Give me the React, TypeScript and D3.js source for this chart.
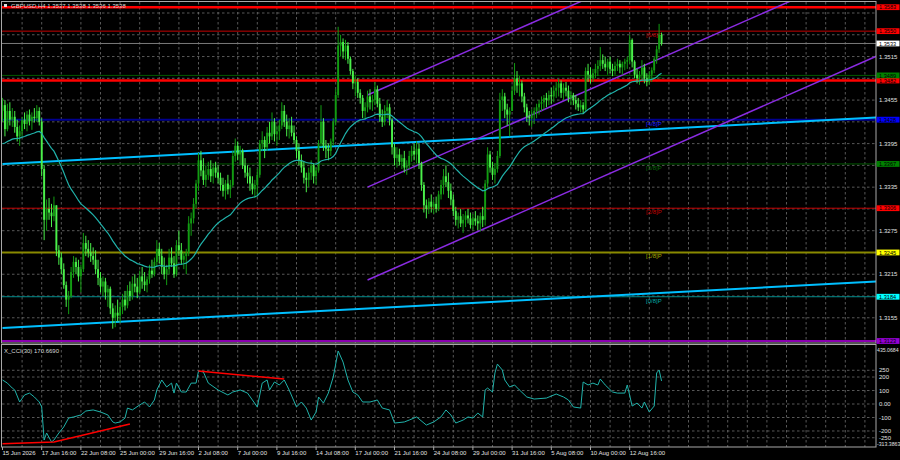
import { useEffect, useRef } from 'react';
import * as d3 from 'd3';

// GBPUSD H4, one value per bar (bar 0 = 15 Jun 2026 00:00)
const closes = [
    1.3448, 1.3415, 1.3440, 1.3428, 1.3432, 1.3418, 1.3405, 1.3412, 1.3428, 1.3422,
    1.3435, 1.3426, 1.3432, 1.3430, 1.3440, 1.3425, 1.3360, 1.3290, 1.3305, 1.3300,
    1.3295, 1.3310, 1.3248, 1.3238, 1.3222, 1.3200, 1.3180, 1.3185, 1.3218, 1.3232,
    1.3225, 1.3212, 1.3222, 1.3258, 1.3250, 1.3245, 1.3240, 1.3235, 1.3222, 1.3210,
    1.3198, 1.3205, 1.3190, 1.3195, 1.3168, 1.3155, 1.3162, 1.3158, 1.3170, 1.3180,
    1.3172, 1.3192, 1.3185, 1.3202, 1.3198, 1.3190, 1.3212, 1.3205, 1.3200, 1.3208,
    1.3220, 1.3215, 1.3232, 1.3250, 1.3240, 1.3225, 1.3215, 1.3222, 1.3238, 1.3230,
    1.3215, 1.3255, 1.3248, 1.3235, 1.3240, 1.3245, 1.3285, 1.3292, 1.3312, 1.3340,
    1.3372, 1.3358, 1.3345, 1.3352, 1.3360, 1.3350, 1.3362, 1.3355, 1.3348, 1.3338,
    1.3330, 1.3340, 1.3332, 1.3338, 1.3378, 1.3392, 1.3380, 1.3385, 1.3365, 1.3355,
    1.3350, 1.3340, 1.3332, 1.3338, 1.3352, 1.3395, 1.3400, 1.3390, 1.3410, 1.3405,
    1.3425, 1.3408, 1.3412, 1.3420, 1.3440, 1.3425, 1.3415, 1.3420, 1.3410, 1.3400,
    1.3385, 1.3372, 1.3362, 1.3348, 1.3345, 1.3355, 1.3365, 1.3350, 1.3358, 1.3395,
    1.3425, 1.3392, 1.3388, 1.3385, 1.3398, 1.3425, 1.3462, 1.3530, 1.3535, 1.3522,
    1.3530, 1.3512, 1.3495, 1.3478, 1.3480, 1.3465, 1.3458, 1.3440, 1.3445, 1.3460,
    1.3452, 1.3455, 1.3470, 1.3450, 1.3432, 1.3425, 1.3440, 1.3445, 1.3428, 1.3390,
    1.3375, 1.3380, 1.3370, 1.3375, 1.3362, 1.3365, 1.3378, 1.3385, 1.3380, 1.3388,
    1.3368, 1.3338, 1.3310, 1.3305, 1.3315, 1.3308, 1.3312, 1.3305, 1.3325, 1.3338,
    1.3350, 1.3342, 1.3330, 1.3318, 1.3302, 1.3290, 1.3295, 1.3285, 1.3290, 1.3296,
    1.3292, 1.3283, 1.3292, 1.3288, 1.3285, 1.3295, 1.3290, 1.3340, 1.3380, 1.3362,
    1.3352, 1.3360, 1.3378, 1.3455, 1.3460, 1.3442, 1.3435, 1.3440, 1.3468, 1.3485,
    1.3475, 1.3478, 1.3460, 1.3445, 1.3432, 1.3430, 1.3435, 1.3440, 1.3445, 1.3450,
    1.3452, 1.3458, 1.3455, 1.3462, 1.3460, 1.3468, 1.3472, 1.3478, 1.3465, 1.3472,
    1.3468, 1.3458, 1.3462, 1.3455, 1.3450, 1.3445, 1.3448, 1.3442, 1.3495, 1.3490,
    1.3485, 1.3492, 1.3498, 1.3502, 1.3510, 1.3505, 1.3500, 1.3508, 1.3498, 1.3495,
    1.3502, 1.3505, 1.3500, 1.3505, 1.3508, 1.3510, 1.3538, 1.3508, 1.3490, 1.3485,
    1.3490, 1.3500, 1.3485, 1.3480, 1.3490, 1.3496, 1.3512, 1.3525, 1.3545, 1.3533,
];

const highs = [
    1.3458, 1.3455, 1.3450, 1.3452, 1.3444, 1.3440, 1.3428, 1.3420, 1.3432, 1.3438,
    1.3440, 1.3442, 1.3438, 1.3444, 1.3448, 1.3445, 1.3430, 1.3365, 1.3318, 1.3320,
    1.3312, 1.3322, 1.3300, 1.3255, 1.3245, 1.3230, 1.3205, 1.3192, 1.3225, 1.3240,
    1.3238, 1.3235, 1.3228, 1.3272, 1.3268, 1.3262, 1.3258, 1.3252, 1.3248, 1.3235,
    1.3218, 1.3212, 1.3210, 1.3200, 1.3198, 1.3175, 1.3172, 1.3180, 1.3175, 1.3188,
    1.3192, 1.3200, 1.3205, 1.3212, 1.3215, 1.3210, 1.3220, 1.3225, 1.3218, 1.3212,
    1.3228, 1.3235, 1.3238, 1.3262, 1.3258, 1.3250, 1.3238, 1.3228, 1.3250, 1.3252,
    1.3240, 1.3262, 1.3275, 1.3258, 1.3245, 1.3250, 1.3295, 1.3300, 1.3320, 1.3345,
    1.3382, 1.3385, 1.3375, 1.3365, 1.3370, 1.3372, 1.3368, 1.3370, 1.3365, 1.3355,
    1.3348, 1.3345, 1.3352, 1.3345, 1.3385, 1.3402, 1.3398, 1.3392, 1.3388, 1.3375,
    1.3365, 1.3362, 1.3350, 1.3345, 1.3360, 1.3400, 1.3412, 1.3405, 1.3418, 1.3425,
    1.3438, 1.3430, 1.3420, 1.3428, 1.3452, 1.3448, 1.3435, 1.3430, 1.3432, 1.3420,
    1.3405, 1.3395, 1.3380, 1.3370, 1.3355, 1.3362, 1.3372, 1.3368, 1.3362, 1.3400,
    1.3448, 1.3430, 1.3400, 1.3395, 1.3402, 1.3430, 1.3470, 1.3556, 1.3545, 1.3540,
    1.3538, 1.3535, 1.3515, 1.3498, 1.3488, 1.3485, 1.3470, 1.3462, 1.3452, 1.3468,
    1.3470, 1.3462, 1.3480, 1.3475, 1.3458, 1.3442, 1.3448, 1.3455, 1.3450, 1.3430,
    1.3395, 1.3390, 1.3388, 1.3380, 1.3385, 1.3372, 1.3385, 1.3392, 1.3395, 1.3398,
    1.3395, 1.3370, 1.3342, 1.3318, 1.3320, 1.3325, 1.3318, 1.3322, 1.3330, 1.3345,
    1.3360, 1.3365, 1.3355, 1.3340, 1.3325, 1.3308, 1.3300, 1.3305, 1.3298, 1.3302,
    1.3305, 1.3300, 1.3298, 1.3302, 1.3296, 1.3300, 1.3308, 1.3345, 1.3390, 1.3385,
    1.3370, 1.3368, 1.3385, 1.3465, 1.3470, 1.3465, 1.3450, 1.3445, 1.3475, 1.3506,
    1.3495, 1.3488, 1.3482, 1.3465, 1.3450, 1.3440, 1.3442, 1.3445, 1.3450, 1.3455,
    1.3460, 1.3462, 1.3465, 1.3468, 1.3472, 1.3475, 1.3480, 1.3484, 1.3482, 1.3478,
    1.3480, 1.3475, 1.3468, 1.3465, 1.3462, 1.3458, 1.3455, 1.3452, 1.3500, 1.3505,
    1.3500, 1.3498, 1.3505, 1.3510, 1.3528, 1.3518, 1.3515, 1.3512, 1.3515, 1.3505,
    1.3508, 1.3512, 1.3510, 1.3508, 1.3512, 1.3515, 1.3545, 1.3540, 1.3510, 1.3498,
    1.3495, 1.3510, 1.3505, 1.3492, 1.3495, 1.3500, 1.3515, 1.3530, 1.3560, 1.3548,
];

const lows = [
    1.3425, 1.3405, 1.3412, 1.3420, 1.3418, 1.3410, 1.3398, 1.3392, 1.3405, 1.3415,
    1.3412, 1.3420, 1.3414, 1.3424, 1.3425, 1.3420, 1.3350, 1.3262, 1.3275, 1.3290,
    1.3280, 1.3288, 1.3240, 1.3228, 1.3215, 1.3195, 1.3170, 1.3160, 1.3182, 1.3210,
    1.3215, 1.3205, 1.3190, 1.3218, 1.3240, 1.3238, 1.3232, 1.3228, 1.3215, 1.3200,
    1.3190, 1.3185, 1.3180, 1.3170, 1.3160, 1.3140, 1.3142, 1.3150, 1.3148, 1.3160,
    1.3165, 1.3168, 1.3178, 1.3180, 1.3190, 1.3182, 1.3188, 1.3195, 1.3192, 1.3190,
    1.3202, 1.3210, 1.3212, 1.3225, 1.3230, 1.3215, 1.3208, 1.3200, 1.3215, 1.3225,
    1.3210, 1.3212, 1.3240, 1.3228, 1.3222, 1.3215, 1.3240, 1.3268, 1.3285, 1.3305,
    1.3330, 1.3350, 1.3338, 1.3335, 1.3345, 1.3342, 1.3340, 1.3348, 1.3340, 1.3330,
    1.3322, 1.3318, 1.3325, 1.3320, 1.3335, 1.3370, 1.3372, 1.3365, 1.3360, 1.3348,
    1.3340, 1.3330, 1.3325, 1.3320, 1.3322, 1.3348, 1.3385, 1.3375, 1.3385, 1.3395,
    1.3400, 1.3398, 1.3392, 1.3400, 1.3415, 1.3418, 1.3405, 1.3402, 1.3405, 1.3395,
    1.3375, 1.3365, 1.3355, 1.3340, 1.3328, 1.3335, 1.3345, 1.3340, 1.3338, 1.3355,
    1.3390, 1.3385, 1.3375, 1.3372, 1.3378, 1.3392, 1.3420, 1.3458, 1.3515, 1.3512,
    1.3510, 1.3505, 1.3490, 1.3470, 1.3460, 1.3458, 1.3450, 1.3430, 1.3428, 1.3438,
    1.3442, 1.3440, 1.3448, 1.3445, 1.3425, 1.3418, 1.3420, 1.3430, 1.3420, 1.3380,
    1.3365, 1.3362, 1.3365, 1.3360, 1.3355, 1.3352, 1.3360, 1.3370, 1.3372, 1.3368,
    1.3360, 1.3330, 1.3300, 1.3292, 1.3298, 1.3300, 1.3298, 1.3300, 1.3302, 1.3318,
    1.3325, 1.3335, 1.3320, 1.3310, 1.3295, 1.3282, 1.3278, 1.3280, 1.3272, 1.3280,
    1.3285, 1.3278, 1.3276, 1.3282, 1.3276, 1.3274, 1.3280, 1.3282, 1.3335, 1.3355,
    1.3345, 1.3340, 1.3355, 1.3375, 1.3440, 1.3430, 1.3420, 1.3405, 1.3440, 1.3462,
    1.3465, 1.3460, 1.3452, 1.3438, 1.3425, 1.3420, 1.3418, 1.3422, 1.3430, 1.3435,
    1.3440, 1.3442, 1.3445, 1.3448, 1.3450, 1.3452, 1.3458, 1.3460, 1.3458, 1.3455,
    1.3460, 1.3452, 1.3448, 1.3448, 1.3442, 1.3440, 1.3438, 1.3436, 1.3440, 1.3480,
    1.3478, 1.3480, 1.3485, 1.3488, 1.3495, 1.3498, 1.3495, 1.3490, 1.3492, 1.3488,
    1.3490, 1.3495, 1.3492, 1.3490, 1.3496, 1.3498, 1.3505, 1.3500, 1.3485, 1.3478,
    1.3476, 1.3482, 1.3478, 1.3474, 1.3476, 1.3480, 1.3492, 1.3505, 1.3520, 1.3530,
];

const firstOpen = 1.3440;
const maPeriod = 20; // smoothed MA
const maStart = 1.3392;

// CCI(30): bar index and value
const cciBars = [
    0, 2, 4, 5, 7, 9, 11, 13, 15, 16, 17, 18, 20, 21, 23, 25, 27, 29, 32, 34,
    37, 40, 43, 45, 46, 48, 50, 51, 53, 56, 58, 60, 62, 63, 65, 67, 69, 70, 71, 73,
    75, 77, 79, 80, 82, 84, 88, 92, 94, 97, 100, 102, 104, 106, 108, 109, 111, 113, 115, 117,
    120, 122, 124, 126, 128, 129, 131, 133, 135, 137, 139, 141, 143, 145, 147, 150, 153, 155, 158, 160,
    164, 166, 169, 173, 176, 179, 181, 183, 185, 188, 190, 192, 194, 196, 197, 198, 200, 201, 202, 204,
    205, 207, 209, 211, 214, 217, 222, 226, 229, 231, 233, 236, 237, 239, 241, 243, 244, 246, 249, 251,
    254, 255, 257, 259, 261, 262, 264, 266, 267, 268, 269,
];
const cciValues = [
    178, 155, 118, 104, 15, 67, 81, 52, 15, -22, -267, -215, -281, -267, -215, -170, -104, -96, -81, -52,
    -44, -59, -81, -133, -141, -133, -104, -30, -44, -7, 15, -22, 30, 104, 178, 126, 155, 81, 155, 89,
    89, 155, 155, 244, 237, 155, 104, 67, 89, 104, 81, 30, -22, 155, 178, 104, 163, 141, 178, 104,
    -22, 15, -30, -119, -59, 52, 7, 81, 200, 393, 311, 178, 89, 67, 15, 15, 30, -30, -44, -141,
    -133, -119, -96, -156, -133, -95, -44, -81, -141, -119, -96, -104, -67, -96, 104, 118, 89, 230, 296, 252,
    178, 126, 141, 104, 52, 37, 44, 74, 52, 30, -22, -30, 163, 141, 155, 141, 185, 141, 89, 81,
    81, 141, -15, 7, -30, 15, -59, -15, 230, 252, 170.669,
];
const cciMin = -313.3863;
const cciMax = 435.0684;
const cciTicks = [250, 200, 100, 0, -100, -200, -250];
const cciTickLabels = ['250', '200', '100', '0.00', '-100', '-200', '-250'];
const cciTrendA = [[0, -295], [21, -281], [52, -148]];
const cciTrendB = [[80, 244], [115, 185]];

const dateLabels = [
    '15 Jun 2026', '17 Jun 16:00', '22 Jun 08:00', '25 Jun 00:00', '29 Jun 16:00', '2 Jul 08:00',
    '7 Jul 00:00', '9 Jul 16:00', '14 Jul 08:00', '17 Jul 00:00', '21 Jul 16:00', '24 Jul 08:00',
    '29 Jul 00:00', '31 Jul 16:00', '5 Aug 08:00', '10 Aug 00:00', '12 Aug 16:00',
];
const barsPerLabel = 16;

const priceTicks = [
    1.3155, 1.3185, 1.3215, 1.3245, 1.3275, 1.3305, 1.3335, 1.3365,
    1.3395, 1.3425, 1.3455, 1.3485, 1.3515, 1.3545, 1.3575,
];

const murreyValues = [1.3550, 1.3489, 1.3428, 1.3367, 1.3306, 1.3245, 1.3184, 1.3123];
const murreyNames = ['[6/8]P', '[5/8]P', '[4/8]P', '[3/8]P', '[2/8]P', '[1/8]P', '[0/8]P', '[-1/8]P'];
const murreyLine = ['#c40000', '#005a00', '#000090', '#005a00', '#c40000', '#8a8a00', '#008b8b', '#8a00b0'];
const murreyText = ['#c80000', '#0a6a0a', '#1a1aff', '#0a6a0a', '#c80000', '#a8a800', '#00a8a8', '#a000c8'];
const murreyBox = ['#ff0000', '#008000', '#0000ff', '#008000', '#ff0000', '#ffff00', '#00ffff', '#9400d3'];
const murreyWidth = [1, 1, 2, 1, 1, 2, 1, 2];

const supportValues = [1.3583, 1.3482];
const lastPrice = 1.3533;

// trend lines as [bar, price]
const blueLines = [
    [[0, 1.3367], [357, 1.3431]],
    [[0, 1.3141], [357, 1.3205]],
];
const channelLines = [
    [[149, 1.3462], [357, 1.3770]],
    [[149, 1.3335], [357, 1.3644]],
    [[149, 1.3207], [357, 1.3516]],
];

const title = 'GBPUSD,H4  1.3537 1.3538 1.3536 1.3538';
const cciTitle = 'X_CCI(30) 170.6690';

const W = 900;
const H = 460;
const left = 2;
const right = 876;
const mainTop = 2;
const mainBottom = 343;
const cciTop = 345;
const cciBottom = 447;
const font = 'Liberation Sans, Arial, sans-serif';
const fs = 6;

const App = () => {
    const svgRef = useRef<SVGSVGElement>(null);

    useEffect(() => {
        const svg = d3.select(svgRef.current);
        svg.selectAll('*').remove();

        const x = d3.scaleLinear().domain([0, 357]).range([2.5, 2.5 + 357 * 2.45]);
        const y = d3.scaleLinear().domain([1.3123, 1.3575]).range([341, 13]);
        const yc = d3.scaleLinear().domain([cciMin, cciMax]).range([446.3, 345.3]);

        svg.append('rect').attr('width', W).attr('height', H).attr('fill', '#000');

        const defs = svg.append('defs');
        defs.append('clipPath').attr('id', 'clip-main')
            .append('rect').attr('x', left).attr('y', mainTop)
            .attr('width', right - left).attr('height', mainBottom - mainTop);
        defs.append('clipPath').attr('id', 'clip-cci')
            .append('rect').attr('x', left).attr('y', cciTop)
            .attr('width', right - left).attr('height', cciBottom - cciTop);

        const main = svg.append('g').attr('clip-path', 'url(#clip-main)');
        const sub = svg.append('g').attr('clip-path', 'url(#clip-cci)');

        // grid
        const gridBars = d3.range(8, 357, 8);
        [main, sub].forEach((g, k) => {
            g.selectAll('line.vg')
                .data(gridBars)
                .join('line')
                .attr('x1', d => x(d)).attr('x2', d => x(d))
                .attr('y1', k === 0 ? mainTop : cciTop)
                .attr('y2', k === 0 ? mainBottom : cciBottom)
                .attr('stroke', '#6e6e6e')
                .attr('stroke-width', 0.8)
                .attr('stroke-dasharray', '2.5,2.5');
        });
        main.selectAll('line.hg')
            .data(priceTicks)
            .join('line')
            .attr('x1', left).attr('x2', right)
            .attr('y1', d => y(d)).attr('y2', d => y(d))
            .attr('stroke', '#6e6e6e')
            .attr('stroke-width', 0.8)
            .attr('stroke-dasharray', '2.5,2.5');
        sub.selectAll('line.hg')
            .data(cciTicks)
            .join('line')
            .attr('x1', left).attr('x2', right)
            .attr('y1', d => yc(d)).attr('y2', d => yc(d))
            .attr('stroke', '#6e6e6e')
            .attr('stroke-width', 0.8)
            .attr('stroke-dasharray', '2.5,2.5');

        // Murrey levels
        main.selectAll('line.mm')
            .data(murreyValues)
            .join('line')
            .attr('x1', left).attr('x2', right)
            .attr('y1', d => y(d)).attr('y2', d => y(d))
            .attr('stroke', (_, i) => murreyLine[i])
            .attr('stroke-width', (_, i) => murreyWidth[i]);
        main.selectAll('text.mm')
            .data(murreyValues)
            .join('text')
            .attr('x', 646)
            .attr('y', d => y(d) + 6)
            .attr('fill', (_, i) => murreyText[i])
            .style('font-family', font)
            .style('font-size', `${fs}px`)
            .text((_, i) => murreyNames[i]);

        // price line
        main.append('line')
            .attr('x1', left).attr('x2', right)
            .attr('y1', y(lastPrice)).attr('y2', y(lastPrice))
            .attr('stroke', '#7a7a7a').attr('stroke-width', 1);

        // thick red levels
        main.selectAll('line.sr')
            .data(supportValues)
            .join('line')
            .attr('x1', left).attr('x2', right)
            .attr('y1', d => y(d)).attr('y2', d => y(d))
            .attr('stroke', '#ff0000').attr('stroke-width', 2.4);

        const seg = d3.line<number[]>().x(d => x(d[0])).y(d => y(d[1]));

        // blue trend lines
        main.selectAll('path.bl')
            .data(blueLines)
            .join('path')
            .attr('d', d => seg(d))
            .attr('fill', 'none')
            .attr('stroke', '#00bfff')
            .attr('stroke-width', 2);

        // channel
        main.selectAll('path.ch')
            .data(channelLines)
            .join('path')
            .attr('d', d => seg(d))
            .attr('fill', 'none')
            .attr('stroke', '#8a2be2')
            .attr('stroke-width', 1.5);

        // candles
        const opens = closes.map((_, i) => (i === 0 ? firstOpen : closes[i - 1]));
        const bars = closes.map((c, i) => ({
            i,
            o: opens[i],
            c,
            h: Math.max(highs[i], opens[i], c),
            l: Math.min(lows[i], opens[i], c),
        }));
        const bullColor = '#129c12';
        const bearColor = '#4af04a';
        const candle = main.append('g');
        candle.selectAll('line')
            .data(bars)
            .join('line')
            .attr('x1', d => x(d.i)).attr('x2', d => x(d.i))
            .attr('y1', d => y(d.h)).attr('y2', d => y(d.l))
            .attr('stroke', d => (d.c >= d.o ? bullColor : bearColor))
            .attr('stroke-width', 1);
        candle.selectAll('rect')
            .data(bars)
            .join('rect')
            .attr('x', d => x(d.i) - 0.95)
            .attr('width', 1.9)
            .attr('y', d => y(Math.max(d.o, d.c)))
            .attr('height', d => Math.max(0.8, Math.abs(y(d.o) - y(d.c))))
            .attr('fill', d => (d.c >= d.o ? bullColor : bearColor));

        // smoothed moving average
        const ma: number[] = [];
        let prev = maStart;
        closes.forEach(c => {
            prev = (prev * (maPeriod - 1) + c) / maPeriod;
            ma.push(prev);
        });
        main.append('path')
            .datum(ma)
            .attr('d', d3.line<number>().x((_, i) => x(i)).y(d => y(d)))
            .attr('fill', 'none')
            .attr('stroke', '#20b2aa')
            .attr('stroke-width', 1.2);

        // CCI
        const cciLine = d3.line<number>().x((_, i) => x(cciBars[i])).y(d => yc(d));
        sub.append('path')
            .datum(cciValues)
            .attr('d', cciLine)
            .attr('fill', 'none')
            .attr('stroke', '#20b2aa')
            .attr('stroke-width', 1);
        const cseg = d3.line<number[]>().x(d => x(d[0])).y(d => yc(d[1]));
        sub.selectAll('path.tr')
            .data([cciTrendA, cciTrendB])
            .join('path')
            .attr('d', d => cseg(d))
            .attr('fill', 'none')
            .attr('stroke', '#ff0000')
            .attr('stroke-width', 1.5);

        // frames
        const frame = svg.append('g').attr('fill', 'none').attr('stroke', '#a8a8a8').attr('stroke-width', 1);
        frame.append('rect').attr('x', left - 0.5).attr('y', mainTop - 0.5)
            .attr('width', right - left + 0.5).attr('height', mainBottom - mainTop + 0.5);
        frame.append('rect').attr('x', left - 0.5).attr('y', cciTop - 0.5)
            .attr('width', right - left + 0.5).attr('height', cciBottom - cciTop + 0.5);

        const txt = (g: any, size = fs) => g.style('font-family', font).style('font-size', `${size}px`);

        // titles
        svg.append('rect').attr('x', 4).attr('y', 4).attr('width', 3).attr('height', 3).attr('fill', '#e0e0e0');
        svg.append('text').attr('x', 11).attr('y', 8).attr('fill', '#d8d8d8').call(txt).text(title);
        svg.append('text').attr('x', 4).attr('y', 353).attr('fill', '#d8d8d8').call(txt).text(cciTitle);

        // price axis
        const boxes = [
            ...supportValues.map(v => ({ v, bg: '#ff0000', fg: '#000' })),
            ...murreyValues.map((v, i) => ({ v, bg: murreyBox[i], fg: '#000' })),
            { v: lastPrice, bg: '#ffffff', fg: '#000' },
        ];
        // tick labels hidden behind the coloured boxes are left out
        const freeTicks = priceTicks.filter(t => boxes.every(b => Math.abs(y(t) - y(b.v)) > 6.5));
        const axis = svg.append('g');
        axis.selectAll('text.pt')
            .data(freeTicks)
            .join('text')
            .attr('x', 879)
            .attr('y', d => y(d) + 2.2)
            .attr('fill', '#e0e0e0')
            .call(txt)
            .text(d => d.toFixed(4));

        const box = axis.selectAll('g.box')
            .data(boxes)
            .join('g')
            .attr('transform', d => `translate(876.5,${y(d.v) - 2.9})`);
        box.append('rect').attr('width', 23).attr('height', 5.8).attr('fill', d => d.bg);
        box.append('text').attr('x', 2.5).attr('y', 5).attr('fill', d => d.fg).call(txt, 5.6)
            .text(d => d.v.toFixed(4));

        // CCI axis
        axis.selectAll('text.ct')
            .data(cciTicks)
            .join('text')
            .attr('x', 879)
            .attr('y', d => yc(d) + 2.2)
            .attr('fill', '#e0e0e0')
            .call(txt)
            .text((_, i) => cciTickLabels[i]);
        axis.append('text').attr('x', 877).attr('y', 351.5).attr('fill', '#e0e0e0').call(txt, 5.2).text(cciMax.toFixed(4));
        axis.append('text').attr('x', 877).attr('y', 446).attr('fill', '#e0e0e0').call(txt, 5.2).text(cciMin.toFixed(4));

        // time axis
        const dates = svg.append('g');
        dates.selectAll('line')
            .data(dateLabels)
            .join('line')
            .attr('x1', (_, i) => x(i * barsPerLabel)).attr('x2', (_, i) => x(i * barsPerLabel))
            .attr('y1', cciBottom).attr('y2', cciBottom + 3)
            .attr('stroke', '#a8a8a8');
        dates.selectAll('text')
            .data(dateLabels)
            .join('text')
            .attr('x', (_, i) => x(i * barsPerLabel))
            .attr('y', 455)
            .attr('fill', '#e0e0e0')
            .call(txt)
            .text(d => d);
    }, []);

    return (
        <div style={{ position: 'absolute', left: 0, top: 0, width: W, height: H, background: '#000' }}>
            <svg ref={svgRef} width={W} height={H}></svg>
        </div>
    );
};

export default App;
